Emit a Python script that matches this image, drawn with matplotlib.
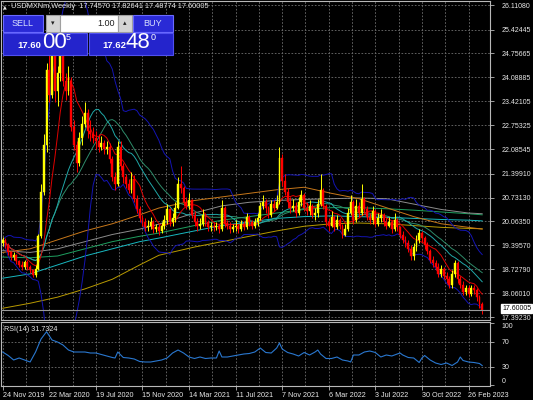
import matplotlib
matplotlib.use("Agg")
import matplotlib.pyplot as plt
from matplotlib.patches import Rectangle
import numpy as np
import pandas as pd

# ---------------- data ----------------
title_text = "USDMXNm,Weekly  17.74570 17.82641 17.48774 17.60005"
first_open = 19.45
closes = [19.55, 19.40, 19.20, 19.08, 19.12, 18.95, 18.85, 18.80, 18.92, 18.78,
          18.70, 18.58, 18.75, 19.65, 20.90, 22.20, 24.30, 23.60, 24.80, 23.70,
          24.20, 24.70, 24.00, 23.70, 24.00, 22.70, 22.20, 21.70, 22.40, 22.80,
          23.10, 22.60, 22.50, 22.40, 22.30, 22.15, 22.25, 22.10, 22.15, 21.80,
          21.30, 21.10, 22.15, 21.60, 21.30, 21.10, 20.95, 21.25, 20.70, 20.40,
          20.15, 20.05, 19.90, 19.95, 20.05, 19.85, 19.90, 19.80, 19.95, 20.10,
          20.40, 20.05, 20.15, 20.45, 21.10, 21.00, 20.60, 20.50, 20.65, 20.25,
          20.05, 19.95, 20.00, 20.25, 20.05, 19.90, 19.95, 19.90, 19.95, 19.85,
          20.45, 20.00, 19.95, 19.85, 19.90, 19.95, 19.85, 20.00, 19.90, 20.20,
          20.05, 19.95, 20.05, 20.15, 20.50, 20.60, 20.45, 20.25, 20.55, 20.45,
          20.60, 21.85, 21.20, 20.90, 20.60, 20.45, 20.50, 20.30, 20.60, 20.80,
          20.45, 20.35, 20.50, 20.25, 20.30, 20.55, 20.95, 20.50, 20.05, 19.95,
          20.20, 19.90, 20.10, 19.95, 19.70, 19.85, 20.30, 20.60, 20.10, 20.50,
          20.30, 20.70, 20.40, 20.20, 20.10, 20.35, 20.00, 20.15, 20.25, 20.05,
          19.95, 20.05, 19.85, 20.10, 19.90, 19.70, 19.55, 19.45, 19.30, 19.10,
          19.35, 19.55, 19.75, 19.60, 19.40, 19.25, 19.00, 18.90, 18.80, 18.60,
          18.75, 18.55, 18.45, 18.30, 18.60, 18.90, 18.45, 18.30, 18.10, 18.20,
          18.05, 18.20, 18.15, 17.95, 17.7457, 17.60005]
highs = [19.62, 19.60, 19.45, 19.25, 19.22, 19.15, 19.00, 18.95, 19.00, 18.98,
         18.85, 18.75, 18.85, 19.72, 21.10, 22.50, 24.50, 25.78, 25.10, 24.90,
         24.40, 25.00, 24.80, 24.20, 24.40, 24.10, 22.90, 22.30, 22.55, 23.00,
         23.40, 23.20, 22.90, 22.70, 22.60, 22.50, 22.45, 22.35, 22.30, 22.25,
         21.90, 21.45, 22.30, 22.30, 21.70, 21.40, 21.25, 21.45, 21.35, 20.80,
         20.50, 20.25, 20.15, 20.10, 20.20, 20.10, 20.00, 19.98, 20.05, 20.25,
         20.55, 20.45, 20.30, 20.60, 21.30, 21.60, 21.05, 20.75, 20.85, 20.70,
         20.35, 20.15, 20.15, 20.40, 20.30, 20.10, 20.05, 20.05, 20.05, 20.00,
         20.65, 20.50, 20.10, 20.05, 20.00, 20.10, 20.00, 20.10, 20.08, 20.30,
         20.25, 20.10, 20.15, 20.30, 20.60, 20.80, 20.70, 20.50, 20.65, 20.65,
         20.80, 22.15, 21.95, 21.40, 21.00, 20.75, 20.70, 20.60, 20.75, 20.95,
         20.85, 20.60, 20.65, 20.55, 20.45, 20.70, 21.40, 21.00, 20.55, 20.15,
         20.35, 20.25, 20.25, 20.15, 20.00, 20.00, 20.45, 20.80, 20.65, 20.70,
         20.60, 21.10, 20.75, 20.50, 20.30, 20.50, 20.40, 20.30, 20.40, 20.30,
         20.15, 20.20, 20.10, 20.30, 20.15, 19.95, 19.80, 19.65, 19.55, 19.40,
         19.45, 19.70, 19.85, 19.80, 19.65, 19.50, 19.30, 19.10, 19.00, 18.90,
         18.85, 18.80, 18.65, 18.55, 18.70, 19.00, 18.95, 18.55, 18.40, 18.30,
         18.30, 18.30, 18.30, 18.20, 18.00, 17.82641]
lows = [19.38, 19.33, 19.12, 19.00, 19.00, 18.88, 18.78, 18.72, 18.75, 18.70,
        18.62, 18.52, 18.50, 18.70, 19.60, 20.80, 22.00, 23.40, 23.50, 23.40,
        23.30, 24.00, 23.85, 23.45, 23.60, 22.60, 22.05, 21.45, 21.60, 22.20,
        22.70, 22.40, 22.30, 22.25, 22.10, 22.00, 22.05, 21.95, 21.95, 21.70,
        21.20, 20.95, 21.05, 21.50, 21.15, 21.00, 20.85, 20.85, 20.60, 20.30,
        20.05, 19.95, 19.80, 19.80, 19.85, 19.75, 19.78, 19.70, 19.75, 19.85,
        20.00, 19.95, 19.95, 20.05, 20.40, 20.85, 20.50, 20.40, 20.40, 20.15,
        19.95, 19.80, 19.85, 19.95, 19.95, 19.80, 19.80, 19.80, 19.82, 19.75,
        19.80, 19.90, 19.85, 19.75, 19.78, 19.80, 19.75, 19.80, 19.82, 19.85,
        19.95, 19.85, 19.88, 19.95, 20.10, 20.40, 20.30, 20.15, 20.20, 20.35,
        20.40, 20.55, 21.05, 20.80, 20.45, 20.30, 20.35, 20.20, 20.25, 20.50,
        20.35, 20.25, 20.25, 20.15, 20.10, 20.20, 20.50, 20.40, 19.95, 19.80,
        19.90, 19.80, 19.85, 19.85, 19.60, 19.65, 19.80, 20.25, 20.00, 20.05,
        20.20, 20.25, 20.30, 20.10, 20.00, 20.00, 19.90, 19.95, 20.05, 19.95,
        19.85, 19.90, 19.75, 19.80, 19.80, 19.60, 19.45, 19.35, 19.20, 19.00,
        19.00, 19.25, 19.45, 19.50, 19.30, 19.15, 18.90, 18.80, 18.70, 18.50,
        18.50, 18.45, 18.35, 18.20, 18.20, 18.50, 18.35, 18.20, 18.00, 18.00,
        17.95, 17.98, 18.05, 17.85, 17.65, 17.48774]

# slow moving averages (week index, value)
ma_weeks = [0, 10, 20, 30, 40, 50, 57, 70, 80, 90, 100, 110, 120, 130, 140, 150, 160, 170, 175]
ma_gold = [17.64, 17.78, 17.95, 18.18, 18.45, 18.85, 19.12, 19.35, 19.50, 19.65, 19.80, 19.93, 20.00,
           20.02, 20.00, 19.95, 19.90, 19.87, 19.86]
ma_cyan = [18.48, 18.60, 18.85, 19.10, 19.30, 19.50, 19.60, 19.80, 19.95, 20.05, 20.15, 20.20, 20.22,
           20.20, 20.18, 20.15, 20.12, 20.10, 20.08]
ma_green = [19.07, 19.05, 19.10, 19.30, 19.50, 19.65, 19.74, 19.95, 20.10, 20.20, 20.30, 20.40, 20.45,
            20.45, 20.42, 20.38, 20.33, 20.28, 20.25]
ma_grey = [19.25, 19.20, 19.30, 19.50, 19.70, 19.85, 19.99, 20.30, 20.50, 20.60, 20.65, 20.68, 20.70,
           20.72, 20.70, 20.55, 20.40, 20.30, 20.28]
ma_orange = [19.20, 19.30, 19.55, 19.80, 20.00, 20.25, 20.44, 20.65, 20.75, 20.85, 20.95, 21.02, 20.85,
             20.70, 20.45, 20.20, 20.00, 19.90, 19.85]

rsi_weeks = [0, 2, 4, 6, 8, 10, 12, 13, 14, 16, 18, 20, 22, 24, 26, 28, 30, 32, 34, 36, 38, 40, 41, 42,
             44, 46, 48, 50, 52, 54, 56, 58, 60, 62, 64, 66, 68, 70, 72, 74, 76, 78, 79, 80, 82, 84,
             86, 88, 90, 92, 94, 96, 98, 100, 101, 102, 104, 106, 108, 110, 112, 114, 115, 116, 118,
             120, 122, 124, 126, 127, 128, 130, 132, 134, 136, 138, 140, 142, 144, 145, 146, 148, 150,
             152, 153, 154, 156, 158, 160, 162, 164, 166, 167, 168, 170, 172, 174, 175]
rsi_values = [53.5, 47.9, 40.7, 43.9, 40.7, 37.5, 53.5, 64.0, 74.3, 86.0, 72.7, 69.5, 64.7, 56.7,
              53.5, 53.5, 53.5, 51.9, 51.9, 49.5, 47.1, 44.7, 43.9, 53.5, 44.7, 43.9, 42.3, 38.3,
              37.5, 37.5, 39.1, 40.7, 43.9, 51.9, 56.7, 51.9, 45.5, 43.1, 45.5, 43.1, 43.9, 43.9,
              55.1, 45.5, 45.5, 47.1, 48.7, 50.3, 51.1, 53.5, 59.9, 52.7, 51.9, 59.9, 67.9, 58.3,
              52.7, 50.3, 47.1, 52.7, 48.7, 53.5, 56.7, 50.3, 43.1, 43.1, 45.5, 40.7, 39.1, 37.5,
              48.7, 48.7, 53.5, 55.1, 52.7, 45.5, 48.7, 47.1, 50.3, 51.9, 48.7, 44.7, 43.9, 36.7,
              43.9, 47.9, 40.7, 35.9, 33.5, 35.9, 31.9, 37.5, 45.5, 39.9, 37.5, 36.7, 35.1, 31.73]
rsi_label = "RSI(14) 31.7324"
rsi_levels = [100, 70, 30, 0]

price_ticks = [26.11080, 25.42445, 24.75665, 24.08885, 23.42105, 22.75325, 22.08545, 21.39910,
               20.73130, 20.06350, 19.39570, 18.72790, 18.06010, 17.39230]
bid_price = 17.60005
date_weeks = [0, 17, 34, 51, 68, 85, 102, 119, 136, 153, 170]
date_labels = ["24 Nov 2019", "22 Mar 2020", "19 Jul 2020", "15 Nov 2020", "14 Mar 2021",
               "11 Jul 2021", "7 Nov 2021", "6 Mar 2022", "3 Jul 2022", "30 Oct 2022", "26 Feb 2023"]

sell_price_small, sell_price_big, sell_price_sup = "17.60", "00", "5"
buy_price_small, buy_price_big, buy_price_sup = "17.62", "48", "0"
lot_text = "1.00"

# ---------------- figure ----------------
W, H = 533, 400
fig = plt.figure(figsize=(W / 100, H / 100), dpi=100, facecolor="black")
plt.rcParams["font.family"] = ["Liberation Sans", "DejaVu Sans"]


def fx(x):
    return x / W


def fy(y):
    return 1 - y / H


AX_L, AX_R = 1, 490
ax = fig.add_axes([fx(AX_L), fy(320), fx(AX_R - AX_L), (320 - 1) / H])
rax = fig.add_axes([fx(AX_L), fy(386), fx(AX_R - AX_L), (386 - 322) / H])

frame_col = "#b8b8b8"
grid_col = "#707070"
txt_col = "#e8e8e8"
for a in (ax, rax):
    a.set_facecolor("black")
    for s in a.spines.values():
        s.set_color(frame_col)
        s.set_linewidth(0.8)

n = len(closes)
idx = np.arange(n)
opens = [first_open] + closes[:-1]
c = np.array(closes)
o = np.array(opens)
h = np.array(highs)
l = np.array(lows)

# x mapping: week i at pixel 2.7 + 2.74*i
px_per_week = 2.74
x0 = -(2.7 - AX_L) / px_per_week
x1 = x0 + (AX_R - AX_L) / px_per_week
ax.set_xlim(x0, x1)
rax.set_xlim(x0, x1)

# y mapping main: 26.1108 at y=5, 35.8 px per unit
ppu = 35.8
y_top = 26.1108 + (5 - 1) / ppu
y_bot = 26.1108 - (320 - 5) / ppu
ax.set_ylim(y_bot, y_top)

# grid
vgrid = np.arange(0, x1, 8.5)
for g in vgrid:
    ax.axvline(g, color=grid_col, lw=0.6, ls=(0, (2, 2)), zorder=0)
    rax.axvline(g, color=grid_col, lw=0.6, ls=(0, (2, 2)), zorder=0)
for p in price_ticks:
    ax.axhline(p, color=grid_col, lw=0.6, ls=(0, (2, 2)), zorder=0)

# computed indicators from closes
cs = pd.Series(closes)
ma_red = cs.rolling(9, min_periods=1).mean()
ma_teal = cs.rolling(20, min_periods=1).mean()
ma_dteal = cs.rolling(26, min_periods=1).mean()
bb_mid = cs.rolling(20, min_periods=1).mean()
bb_std = cs.rolling(20, min_periods=1).std(ddof=0).fillna(0)
bb_up = bb_mid + 2 * bb_std
bb_dn = bb_mid - 2 * bb_std

lw = 0.7
ax.plot(ma_weeks, ma_gold, color="#b89a00", lw=lw, zorder=2)
ax.plot(ma_weeks, ma_cyan, color="#18b8c0", lw=lw, zorder=2)
ax.plot(ma_weeks, ma_green, color="#1ea060", lw=lw, zorder=2)
ax.plot(ma_weeks, ma_grey, color="#8c8c8c", lw=lw, zorder=2)
ax.plot(ma_weeks, ma_orange, color="#c8781a", lw=lw, zorder=2)
ax.plot(idx, bb_up, color="#1414b4", lw=lw, zorder=2)
ax.plot(idx, bb_dn, color="#1414b4", lw=lw, zorder=2)
ax.plot(idx, ma_dteal, color="#2e8b6a", lw=lw, zorder=2)
ax.plot(idx, ma_teal, color="#20a8a8", lw=lw, zorder=2)
ax.plot(idx, ma_red, color="#e00000", lw=lw, zorder=2)

# candles
up = c >= o
col = np.where(up, "#ffff00", "#ff0000")
ax.vlines(idx, l, h, colors=col, lw=0.7, zorder=3)
body_lo = np.minimum(o, c)
body_h = np.maximum(np.abs(c - o), 0.03)
ax.bar(idx, body_h, bottom=body_lo, width=0.68, color=col, edgecolor=col, lw=0.3, zorder=4)

# bid line
ax.axhline(bid_price, color="#9a9a9a", lw=0.8, zorder=5)

# right price axis
ax.yaxis.tick_right()
ax.set_yticks(price_ticks)
ax.set_yticklabels([f"{p:.5f}" for p in price_ticks])
ax.tick_params(axis="y", colors=frame_col, labelcolor=txt_col, length=3, width=0.6,
               labelsize=5.0, pad=5.5)
ax.set_xticks([])

# bid price box
fig.text(fx(502), fy(308.5), f"{bid_price:.5f}", fontsize=5.0, color="black", va="center",
         ha="left", bbox=dict(boxstyle="square,pad=0.15", fc="white", ec="white"))

# title line
fig.text(fx(3), fy(7), "\u25B2", fontsize=3.5, color=txt_col, va="center", ha="left",
         family=["DejaVu Sans"])
fig.text(fx(11), fy(7), title_text, fontsize=5.3, color=txt_col, va="center", ha="left")

# RSI panel
rax.plot(rsi_weeks, rsi_values, color="#2a78d0", lw=0.8, zorder=3)
rax.set_ylim(-0.9, 101.5)
for lv in (70, 30):
    rax.axhline(lv, color=grid_col, lw=0.6, ls=(0, (2, 2)), zorder=0)
rax.yaxis.tick_right()
rax.set_yticks(rsi_levels)
rax.set_yticklabels([str(v) for v in rsi_levels])
rax.tick_params(axis="y", colors=frame_col, labelcolor=txt_col, length=3, width=0.6,
                labelsize=5.0, pad=5.5)
for t, v in zip(rax.yaxis.get_major_ticks(), rsi_levels):
    if v == 100:
        t.label2.set_va("top")
    elif v == 0:
        t.label2.set_va("bottom")
rax.set_xticks(date_weeks)
rax.set_xticklabels(date_labels, ha="left")
rax.tick_params(axis="x", colors=frame_col, labelcolor=txt_col, length=3, width=0.6,
                labelsize=5.2, pad=1.5)
rax.text(0.006, 0.93, rsi_label, transform=rax.transAxes, fontsize=5.2, color=txt_col,
         va="top", ha="left")

# ---------------- trade panel ----------------
btn_fc = "#2a2ad6"
btn_ec = "#6a6aff"


def box(x, y, w, hgt, fc, ec, lw_=0.8, z=10):
    r = Rectangle((fx(x), fy(y + hgt)), fx(w), hgt / H, transform=fig.transFigure,
                  facecolor=fc, edgecolor=ec, lw=lw_, zorder=z)
    fig.add_artist(r)


box(3, 15, 40, 17, btn_fc, btn_ec)
fig.text(fx(23), fy(23.5), "SELL", fontsize=6.5, color="#d8e0ff", ha="center", va="center", zorder=11)
box(46, 15, 14, 17, "#d4d4d4", "#a0a0a0")
fig.text(fx(53), fy(23), "\u25BE", fontsize=5, color="#202020", ha="center", va="center",
         family=["DejaVu Sans"], zorder=11)
box(60, 15, 58, 17, "white", "#a0a0a0")
fig.text(fx(115), fy(23.5), lot_text, fontsize=6.5, color="#202020", ha="right", va="center", zorder=11)
box(118, 15, 14, 17, "#d4d4d4", "#a0a0a0")
fig.text(fx(125), fy(23), "\u25B4", fontsize=5, color="#202020", ha="center", va="center",
         family=["DejaVu Sans"], zorder=11)
box(133, 15, 40, 17, btn_fc, btn_ec)
fig.text(fx(153), fy(23.5), "BUY", fontsize=6.5, color="#d8e0ff", ha="center", va="center", zorder=11)

box(3, 33, 84, 22, "#2424cc", "#5050f0")
box(89, 33, 84, 22, "#2424cc", "#5050f0")
fig.text(fx(17), fy(46), sell_price_small, fontsize=6.8, color="white", ha="left", va="center",
         weight="bold", zorder=11)
fig.text(fx(42), fy(43), sell_price_big, fontsize=16, color="white", ha="left", va="center", zorder=11)
fig.text(fx(66), fy(38), sell_price_sup, fontsize=6.5, color="white", ha="left", va="center", zorder=11)
fig.text(fx(102), fy(46), buy_price_small, fontsize=6.8, color="white", ha="left", va="center",
         weight="bold", zorder=11)
fig.text(fx(126), fy(43), buy_price_big, fontsize=16, color="white", ha="left", va="center", zorder=11)
fig.text(fx(151), fy(38), buy_price_sup, fontsize=6.5, color="white", ha="left", va="center", zorder=11)

fig.savefig("out.png", dpi=100, facecolor="black")
